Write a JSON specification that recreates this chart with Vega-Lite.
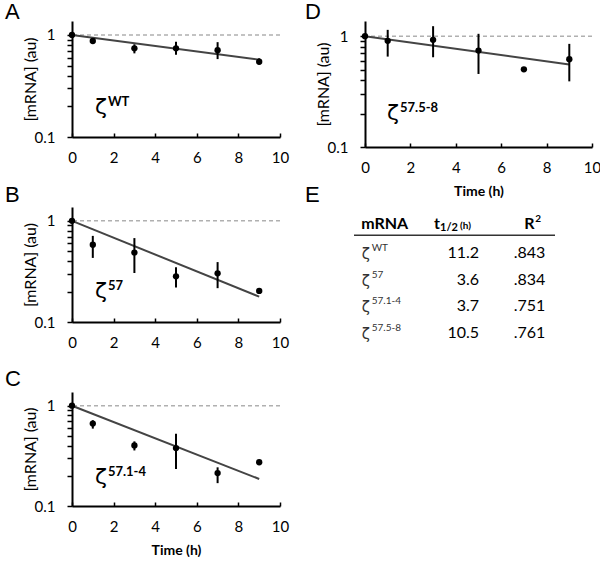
{
  "$schema": "https://vega.github.io/schema/vega-lite/v6.json",
  "padding": {"left": 5, "top": 1, "right": 0, "bottom": 0},
  "config": {
    "view": {"stroke": null},
    "axis": {"grid": false, "domainColor": "#000", "domainWidth": 2, "tickColor": "#000", "tickWidth": 1.5, "labelFont": "Lato", "labelFontSize": 15, "labelColor": "#000", "titleFont": "Lato", "titleColor": "#000", "titleFontWeight": "normal"},
    "title": {"font": "Liberation Sans", "fontSize": 22, "fontWeight": "normal", "anchor": "start", "frame": "group", "color": "#000", "baseline": "alphabetic"},
    "text": {"font": "Lato", "color": "#000"}
  },
  "datasets": {
    "points": [
      {"panel": "A", "t": 0, "y": 1.0, "lo": null, "hi": null},
      {"panel": "A", "t": 1, "y": 0.873, "lo": 0.83, "hi": 0.92},
      {"panel": "A", "t": 3, "y": 0.74, "lo": 0.66, "hi": 0.81},
      {"panel": "A", "t": 5, "y": 0.74, "lo": 0.64, "hi": 0.86},
      {"panel": "A", "t": 7, "y": 0.71, "lo": 0.58, "hi": 0.85},
      {"panel": "A", "t": 9, "y": 0.547, "lo": 0.51, "hi": 0.59},
      {"panel": "B", "t": 0, "y": 1.0, "lo": null, "hi": null},
      {"panel": "B", "t": 1, "y": 0.58, "lo": 0.43, "hi": 0.71},
      {"panel": "B", "t": 3, "y": 0.485, "lo": 0.305, "hi": 0.675},
      {"panel": "B", "t": 5, "y": 0.283, "lo": 0.219, "hi": 0.348},
      {"panel": "B", "t": 7, "y": 0.303, "lo": 0.216, "hi": 0.391},
      {"panel": "B", "t": 9, "y": 0.203, "lo": null, "hi": null},
      {"panel": "C", "t": 0, "y": 1.0, "lo": null, "hi": null},
      {"panel": "C", "t": 1, "y": 0.664, "lo": 0.591, "hi": 0.717},
      {"panel": "C", "t": 3, "y": 0.402, "lo": 0.358, "hi": 0.441},
      {"panel": "C", "t": 5, "y": 0.378, "lo": 0.234, "hi": 0.526},
      {"panel": "C", "t": 7, "y": 0.213, "lo": 0.169, "hi": 0.243},
      {"panel": "C", "t": 9, "y": 0.273, "lo": null, "hi": null},
      {"panel": "D", "t": 0, "y": 1.0, "lo": null, "hi": null},
      {"panel": "D", "t": 1, "y": 0.907, "lo": 0.654, "hi": 1.14},
      {"panel": "D", "t": 3, "y": 0.926, "lo": 0.645, "hi": 1.23},
      {"panel": "D", "t": 5, "y": 0.741, "lo": 0.456, "hi": 1.05},
      {"panel": "D", "t": 7, "y": 0.502, "lo": null, "hi": null},
      {"panel": "D", "t": 9, "y": 0.619, "lo": 0.391, "hi": 0.852}
    ],
    "fits": [
      {"panel": "A", "t": 0, "y": 1.0}, {"panel": "A", "t": 9, "y": 0.573},
      {"panel": "B", "t": 0, "y": 1.0}, {"panel": "B", "t": 9, "y": 0.178},
      {"panel": "C", "t": 0, "y": 1.0}, {"panel": "C", "t": 9, "y": 0.186},
      {"panel": "D", "t": 0, "y": 1.0}, {"panel": "D", "t": 9, "y": 0.556}
    ],
    "annot": [
      {"panel": "A", "t": 1.1, "y": 0.168, "sup": "WT"},
      {"panel": "B", "t": 1.1, "y": 0.174, "sup": "57"},
      {"panel": "C", "t": 1.1, "y": 0.167, "sup": "57.1-4"},
      {"panel": "D", "t": 0.97, "y": 0.175, "sup": "57.5-8"}
    ],
    "table": [
      {"row": "WT", "sup": "WT", "t": "11.2", "r2": ".843"},
      {"row": "57", "sup": "57", "t": "3.6", "r2": ".834"},
      {"row": "57.1-4", "sup": "57.1-4", "t": "3.7", "r2": ".751"},
      {"row": "57.5-8", "sup": "57.5-8", "t": "10.5", "r2": ".761"}
    ]
  },
  "bounds": "flush",
  "spacing": 293,
  "hconcat": [
    {
      "bounds": "flush",
      "spacing": 70,
      "vconcat": [
        {
          "width": 208, "height": 116,
          "title": {"text": "A", "dx": -67, "offset": -3},
          "layer": [
            {"data": {"values": [{"ref": 1}]}, "mark": {"type": "rule", "color": "#b0b0b0", "strokeDash": [4, 3], "strokeWidth": 1.5},
             "encoding": {"y": {"field": "ref", "type": "quantitative", "scale": {"type": "log", "domain": [0.1, 1.37], "nice": false}}}},
            {"data": {"name": "fits"}, "transform": [{"filter": "datum.panel == 'A'"}], "mark": {"type": "line", "color": "#444", "strokeWidth": 2},
             "encoding": {
               "x": {"field": "t", "type": "quantitative", "scale": {"domain": [0, 10], "nice": false}, "axis": {"values": [0,1,2,3,4,5,6,7,8,9,10], "labelExpr": "datum.value % 2 == 0 ? datum.label : ''", "tickSize": -4, "labelPadding": 17, "labelFlush": false, "labelOverlap": false, "title": null}},
               "y": {"field": "y", "type": "quantitative", "scale": {"type": "log", "domain": [0.1, 1.37], "nice": false}, "axis": {"values": [0.1,0.2,0.3,0.4,0.5,0.6,0.7,0.8,0.9,1], "labelExpr": "datum.value == 1 ? '1' : (datum.value == 0.1 ? '0.1' : '')", "labelOverlap": false, "tickSize": 5, "labelPadding": 12, "title": "[mRNA] (au)", "titleFontSize": 16, "titlePadding": -4}}}},
            {"data": {"name": "points"}, "transform": [{"filter": "datum.panel == 'A' && datum.lo != null"}], "mark": {"type": "rule", "color": "#000", "strokeWidth": 2},
             "encoding": {"x": {"field": "t", "type": "quantitative", "scale": {"domain": [0, 10], "nice": false}}, "y": {"field": "lo", "type": "quantitative", "scale": {"type": "log", "domain": [0.1, 1.37], "nice": false}}, "y2": {"field": "hi"}}},
            {"data": {"name": "points"}, "transform": [{"filter": "datum.panel == 'A'"}], "mark": {"type": "point", "filled": true, "color": "#000", "size": 40, "opacity": 1},
             "encoding": {"x": {"field": "t", "type": "quantitative", "scale": {"domain": [0, 10], "nice": false}}, "y": {"field": "y", "type": "quantitative", "scale": {"type": "log", "domain": [0.1, 1.37], "nice": false}}}},
            {"data": {"name": "annot"}, "transform": [{"filter": "datum.panel == 'A'"}], "mark": {"type": "text", "text": "ζ", "font": "DejaVu Sans", "fontSize": 22, "align": "left", "baseline": "alphabetic"},
             "encoding": {"x": {"field": "t", "type": "quantitative", "scale": {"domain": [0, 10], "nice": false}}, "y": {"field": "y", "type": "quantitative", "scale": {"type": "log", "domain": [0.1, 1.37], "nice": false}}}},
            {"data": {"name": "annot"}, "transform": [{"filter": "datum.panel == 'A'"}], "mark": {"type": "text", "fontSize": 13, "fontWeight": "bold", "align": "left", "baseline": "alphabetic", "dx": 13, "dy": -8},
             "encoding": {"x": {"field": "t", "type": "quantitative", "scale": {"domain": [0, 10], "nice": false}}, "y": {"field": "y", "type": "quantitative", "scale": {"type": "log", "domain": [0.1, 1.37], "nice": false}}, "text": {"field": "sup"}}}
          ]
        },
        {
          "width": 208, "height": 115,
          "title": {"text": "B", "dx": -67, "offset": 0},
          "layer": [
            {"data": {"values": [{"ref": 1}]}, "mark": {"type": "rule", "color": "#b0b0b0", "strokeDash": [4, 3], "strokeWidth": 1.5},
             "encoding": {"y": {"field": "ref", "type": "quantitative", "scale": {"type": "log", "domain": [0.1, 1.37], "nice": false}}}},
            {"data": {"name": "fits"}, "transform": [{"filter": "datum.panel == 'B'"}], "mark": {"type": "line", "color": "#444", "strokeWidth": 2},
             "encoding": {
               "x": {"field": "t", "type": "quantitative", "scale": {"domain": [0, 10], "nice": false}, "axis": {"values": [0,1,2,3,4,5,6,7,8,9,10], "labelExpr": "datum.value % 2 == 0 ? datum.label : ''", "tickSize": -4, "labelPadding": 17, "labelFlush": false, "labelOverlap": false, "title": null}},
               "y": {"field": "y", "type": "quantitative", "scale": {"type": "log", "domain": [0.1, 1.37], "nice": false}, "axis": {"values": [0.1,0.2,0.3,0.4,0.5,0.6,0.7,0.8,0.9,1], "labelExpr": "datum.value == 1 ? '1' : (datum.value == 0.1 ? '0.1' : '')", "labelOverlap": false, "tickSize": 5, "labelPadding": 12, "title": "[mRNA] (au)", "titleFontSize": 16, "titlePadding": -4}}}},
            {"data": {"name": "points"}, "transform": [{"filter": "datum.panel == 'B' && datum.lo != null"}], "mark": {"type": "rule", "color": "#000", "strokeWidth": 2},
             "encoding": {"x": {"field": "t", "type": "quantitative", "scale": {"domain": [0, 10], "nice": false}}, "y": {"field": "lo", "type": "quantitative", "scale": {"type": "log", "domain": [0.1, 1.37], "nice": false}}, "y2": {"field": "hi"}}},
            {"data": {"name": "points"}, "transform": [{"filter": "datum.panel == 'B'"}], "mark": {"type": "point", "filled": true, "color": "#000", "size": 40, "opacity": 1},
             "encoding": {"x": {"field": "t", "type": "quantitative", "scale": {"domain": [0, 10], "nice": false}}, "y": {"field": "y", "type": "quantitative", "scale": {"type": "log", "domain": [0.1, 1.37], "nice": false}}}},
            {"data": {"name": "annot"}, "transform": [{"filter": "datum.panel == 'B'"}], "mark": {"type": "text", "text": "ζ", "font": "DejaVu Sans", "fontSize": 22, "align": "left", "baseline": "alphabetic"},
             "encoding": {"x": {"field": "t", "type": "quantitative", "scale": {"domain": [0, 10], "nice": false}}, "y": {"field": "y", "type": "quantitative", "scale": {"type": "log", "domain": [0.1, 1.37], "nice": false}}}},
            {"data": {"name": "annot"}, "transform": [{"filter": "datum.panel == 'B'"}], "mark": {"type": "text", "fontSize": 13, "fontWeight": "bold", "align": "left", "baseline": "alphabetic", "dx": 13, "dy": -8},
             "encoding": {"x": {"field": "t", "type": "quantitative", "scale": {"domain": [0, 10], "nice": false}}, "y": {"field": "y", "type": "quantitative", "scale": {"type": "log", "domain": [0.1, 1.37], "nice": false}}, "text": {"field": "sup"}}}
          ]
        },
        {
          "width": 208, "height": 114,
          "title": {"text": "C", "dx": -67, "offset": 1},
          "layer": [
            {"data": {"values": [{"ref": 1}]}, "mark": {"type": "rule", "color": "#b0b0b0", "strokeDash": [4, 3], "strokeWidth": 1.5},
             "encoding": {"y": {"field": "ref", "type": "quantitative", "scale": {"type": "log", "domain": [0.1, 1.37], "nice": false}}}},
            {"data": {"name": "fits"}, "transform": [{"filter": "datum.panel == 'C'"}], "mark": {"type": "line", "color": "#444", "strokeWidth": 2},
             "encoding": {
               "x": {"field": "t", "type": "quantitative", "scale": {"domain": [0, 10], "nice": false}, "axis": {"values": [0,1,2,3,4,5,6,7,8,9,10], "labelExpr": "datum.value % 2 == 0 ? datum.label : ''", "tickSize": -4, "labelPadding": 17, "labelFlush": false, "labelOverlap": false, "title": "Time (h)", "titleFontWeight": "bold", "titleFontSize": 14, "titlePadding": 9}},
               "y": {"field": "y", "type": "quantitative", "scale": {"type": "log", "domain": [0.1, 1.37], "nice": false}, "axis": {"values": [0.1,0.2,0.3,0.4,0.5,0.6,0.7,0.8,0.9,1], "labelExpr": "datum.value == 1 ? '1' : (datum.value == 0.1 ? '0.1' : '')", "labelOverlap": false, "tickSize": 5, "labelPadding": 12, "title": "[mRNA] (au)", "titleFontSize": 16, "titlePadding": -4}}}},
            {"data": {"name": "points"}, "transform": [{"filter": "datum.panel == 'C' && datum.lo != null"}], "mark": {"type": "rule", "color": "#000", "strokeWidth": 2},
             "encoding": {"x": {"field": "t", "type": "quantitative", "scale": {"domain": [0, 10], "nice": false}}, "y": {"field": "lo", "type": "quantitative", "scale": {"type": "log", "domain": [0.1, 1.37], "nice": false}}, "y2": {"field": "hi"}}},
            {"data": {"name": "points"}, "transform": [{"filter": "datum.panel == 'C'"}], "mark": {"type": "point", "filled": true, "color": "#000", "size": 40, "opacity": 1},
             "encoding": {"x": {"field": "t", "type": "quantitative", "scale": {"domain": [0, 10], "nice": false}}, "y": {"field": "y", "type": "quantitative", "scale": {"type": "log", "domain": [0.1, 1.37], "nice": false}}}},
            {"data": {"name": "annot"}, "transform": [{"filter": "datum.panel == 'C'"}], "mark": {"type": "text", "text": "ζ", "font": "DejaVu Sans", "fontSize": 22, "align": "left", "baseline": "alphabetic"},
             "encoding": {"x": {"field": "t", "type": "quantitative", "scale": {"domain": [0, 10], "nice": false}}, "y": {"field": "y", "type": "quantitative", "scale": {"type": "log", "domain": [0.1, 1.37], "nice": false}}}},
            {"data": {"name": "annot"}, "transform": [{"filter": "datum.panel == 'C'"}], "mark": {"type": "text", "fontSize": 13, "fontWeight": "bold", "align": "left", "baseline": "alphabetic", "dx": 13, "dy": -8},
             "encoding": {"x": {"field": "t", "type": "quantitative", "scale": {"domain": [0, 10], "nice": false}}, "y": {"field": "y", "type": "quantitative", "scale": {"type": "log", "domain": [0.1, 1.37], "nice": false}}, "text": {"field": "sup"}}}
          ]
        }
      ]
    },
    {
      "bounds": "flush",
      "spacing": 64,
      "vconcat": [
        {
          "width": 227, "height": 126,
          "title": {"text": "D", "dx": -60, "offset": -3},
          "layer": [
            {"data": {"values": [{"ref": 1}]}, "mark": {"type": "rule", "color": "#b0b0b0", "strokeDash": [4, 3], "strokeWidth": 1.5},
             "encoding": {"y": {"field": "ref", "type": "quantitative", "scale": {"type": "log", "domain": [0.1, 1.37], "nice": false}}}},
            {"data": {"name": "fits"}, "transform": [{"filter": "datum.panel == 'D'"}], "mark": {"type": "line", "color": "#444", "strokeWidth": 2},
             "encoding": {
               "x": {"field": "t", "type": "quantitative", "scale": {"domain": [0, 10], "nice": false}, "axis": {"values": [0,1,2,3,4,5,6,7,8,9,10], "labelExpr": "datum.value % 2 == 0 ? datum.label : ''", "tickSize": -4, "labelPadding": 17, "labelFlush": false, "labelOverlap": false, "title": "Time (h)", "titleFontWeight": "bold", "titleFontSize": 14, "titlePadding": 9}},
               "y": {"field": "y", "type": "quantitative", "scale": {"type": "log", "domain": [0.1, 1.37], "nice": false}, "axis": {"values": [0.1,0.2,0.3,0.4,0.5,0.6,0.7,0.8,0.9,1], "labelExpr": "datum.value == 1 ? '1' : (datum.value == 0.1 ? '0.1' : '')", "labelOverlap": false, "tickSize": 5, "labelPadding": 12, "title": "[mRNA] (au)", "titleFontSize": 16, "titlePadding": -4}}}},
            {"data": {"name": "points"}, "transform": [{"filter": "datum.panel == 'D' && datum.lo != null"}], "mark": {"type": "rule", "color": "#000", "strokeWidth": 2},
             "encoding": {"x": {"field": "t", "type": "quantitative", "scale": {"domain": [0, 10], "nice": false}}, "y": {"field": "lo", "type": "quantitative", "scale": {"type": "log", "domain": [0.1, 1.37], "nice": false}}, "y2": {"field": "hi"}}},
            {"data": {"name": "points"}, "transform": [{"filter": "datum.panel == 'D'"}], "mark": {"type": "point", "filled": true, "color": "#000", "size": 40, "opacity": 1},
             "encoding": {"x": {"field": "t", "type": "quantitative", "scale": {"domain": [0, 10], "nice": false}}, "y": {"field": "y", "type": "quantitative", "scale": {"type": "log", "domain": [0.1, 1.37], "nice": false}}}},
            {"data": {"name": "annot"}, "transform": [{"filter": "datum.panel == 'D'"}], "mark": {"type": "text", "text": "ζ", "font": "DejaVu Sans", "fontSize": 22, "align": "left", "baseline": "alphabetic"},
             "encoding": {"x": {"field": "t", "type": "quantitative", "scale": {"domain": [0, 10], "nice": false}}, "y": {"field": "y", "type": "quantitative", "scale": {"type": "log", "domain": [0.1, 1.37], "nice": false}}}},
            {"data": {"name": "annot"}, "transform": [{"filter": "datum.panel == 'D'"}], "mark": {"type": "text", "fontSize": 13, "fontWeight": "bold", "align": "left", "baseline": "alphabetic", "dx": 13, "dy": -8},
             "encoding": {"x": {"field": "t", "type": "quantitative", "scale": {"domain": [0, 10], "nice": false}}, "y": {"field": "y", "type": "quantitative", "scale": {"type": "log", "domain": [0.1, 1.37], "nice": false}}, "text": {"field": "sup"}}}
          ]
        },
        {
          "width": 190, "height": 133,
          "title": {"text": "E", "dx": -60, "offset": 4},
          "layer": [
            {"data": {"values": [{"row": "hdr"}]}, "mark": {"type": "rule", "color": "#333", "strokeWidth": 1.5, "yOffset": 11, "xOffset": -11},
             "encoding": {"x": {"datum": 0, "type": "quantitative", "scale": {"domain": [0, 3], "nice": false}, "axis": null}, "x2": {"datum": 3}, "y": {"field": "row", "type": "nominal", "scale": {"type": "point", "domain": ["hdr", "WT", "57", "57.1-4", "57.5-8"]}, "axis": null}}},
            {"data": {"values": [{"row": "hdr", "label": "mRNA"}]}, "mark": {"type": "text", "fontSize": 16, "fontWeight": "bold", "align": "center", "baseline": "middle", "dx": -12},
             "encoding": {"x": {"datum": 0.5, "type": "quantitative", "scale": {"domain": [0, 3], "nice": false}}, "y": {"field": "row", "type": "nominal", "scale": {"type": "point", "domain": ["hdr", "WT", "57", "57.1-4", "57.5-8"]}}, "text": {"field": "label"}}},
            {"data": {"values": [{"row": "hdr", "label": "t"}]}, "mark": {"type": "text", "fontSize": 16, "fontWeight": "bold", "align": "left", "baseline": "middle", "dx": -26},
             "encoding": {"x": {"datum": 1.5, "type": "quantitative", "scale": {"domain": [0, 3], "nice": false}}, "y": {"field": "row", "type": "nominal", "scale": {"type": "point", "domain": ["hdr", "WT", "57", "57.1-4", "57.5-8"]}}, "text": {"field": "label"}}},
            {"data": {"values": [{"row": "hdr", "label": "1/2"}]}, "mark": {"type": "text", "fontSize": 11, "fontWeight": "bold", "align": "left", "baseline": "middle", "dx": -20, "dy": 4},
             "encoding": {"x": {"datum": 1.5, "type": "quantitative", "scale": {"domain": [0, 3], "nice": false}}, "y": {"field": "row", "type": "nominal", "scale": {"type": "point", "domain": ["hdr", "WT", "57", "57.1-4", "57.5-8"]}}, "text": {"field": "label"}}},
            {"data": {"values": [{"row": "hdr", "label": "(h)"}]}, "mark": {"type": "text", "fontSize": 10, "fontWeight": "bold", "align": "left", "baseline": "middle", "dx": 0, "dy": 2},
             "encoding": {"x": {"datum": 1.5, "type": "quantitative", "scale": {"domain": [0, 3], "nice": false}}, "y": {"field": "row", "type": "nominal", "scale": {"type": "point", "domain": ["hdr", "WT", "57", "57.1-4", "57.5-8"]}}, "text": {"field": "label"}}},
            {"data": {"values": [{"row": "hdr", "label": "R"}]}, "mark": {"type": "text", "fontSize": 16, "fontWeight": "bold", "align": "left", "baseline": "middle", "dx": 1},
             "encoding": {"x": {"datum": 2.5, "type": "quantitative", "scale": {"domain": [0, 3], "nice": false}}, "y": {"field": "row", "type": "nominal", "scale": {"type": "point", "domain": ["hdr", "WT", "57", "57.1-4", "57.5-8"]}}, "text": {"field": "label"}}},
            {"data": {"values": [{"row": "hdr", "label": "2"}]}, "mark": {"type": "text", "fontSize": 10, "fontWeight": "bold", "align": "left", "baseline": "middle", "dx": 12, "dy": -5},
             "encoding": {"x": {"datum": 2.5, "type": "quantitative", "scale": {"domain": [0, 3], "nice": false}}, "y": {"field": "row", "type": "nominal", "scale": {"type": "point", "domain": ["hdr", "WT", "57", "57.1-4", "57.5-8"]}}, "text": {"field": "label"}}},
            {"data": {"name": "table"}, "mark": {"type": "text", "text": "ζ", "font": "DejaVu Sans", "fontSize": 15, "color": "#333", "align": "left", "baseline": "middle", "dx": -35, "dy": 3},
             "encoding": {"x": {"datum": 0.5, "type": "quantitative", "scale": {"domain": [0, 3], "nice": false}}, "y": {"field": "row", "type": "nominal", "scale": {"type": "point", "domain": ["hdr", "WT", "57", "57.1-4", "57.5-8"]}}}},
            {"data": {"name": "table"}, "mark": {"type": "text", "fontSize": 10, "color": "#333", "align": "left", "baseline": "middle", "dx": -25, "dy": -3},
             "encoding": {"x": {"datum": 0.5, "type": "quantitative", "scale": {"domain": [0, 3], "nice": false}}, "y": {"field": "row", "type": "nominal", "scale": {"type": "point", "domain": ["hdr", "WT", "57", "57.1-4", "57.5-8"]}}, "text": {"field": "sup"}}},
            {"data": {"name": "table"}, "mark": {"type": "text", "fontSize": 16, "align": "right", "baseline": "middle", "dx": 19, "dy": 2},
             "encoding": {"x": {"datum": 1.5, "type": "quantitative", "scale": {"domain": [0, 3], "nice": false}}, "y": {"field": "row", "type": "nominal", "scale": {"type": "point", "domain": ["hdr", "WT", "57", "57.1-4", "57.5-8"]}}, "text": {"field": "t"}}},
            {"data": {"name": "table"}, "mark": {"type": "text", "fontSize": 16, "align": "right", "baseline": "middle", "dx": 22, "dy": 2},
             "encoding": {"x": {"datum": 2.5, "type": "quantitative", "scale": {"domain": [0, 3], "nice": false}}, "y": {"field": "row", "type": "nominal", "scale": {"type": "point", "domain": ["hdr", "WT", "57", "57.1-4", "57.5-8"]}}, "text": {"field": "r2"}}}
          ]
        }
      ]
    }
  ]
}
